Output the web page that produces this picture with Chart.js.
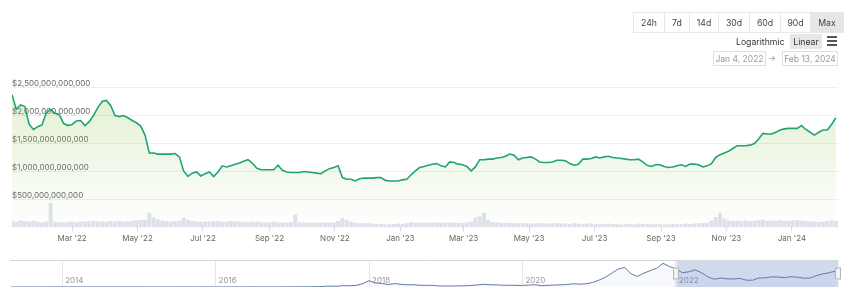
<!DOCTYPE html>
<html>
<head>
<meta charset="utf-8">
<script src="https://cdn.jsdelivr.net/npm/chart.js@4.4.1/dist/chart.umd.min.js"></script>
<style>
  body { margin: 0; background: #fff; font-family: Inter, "Liberation Sans", sans-serif; }
  #wrap { position: relative; width: 850px; height: 294px; overflow: hidden; }
  .ranges { position: absolute; left: 634px; top: 12px; height: 21px; display: flex; }
  .ranges span { box-sizing: border-box; height: 21px; border: 1px solid #e8e8e8; margin-left: -1px;
    font-size: 8.7px; color: #444; display: flex; align-items: center; justify-content: center; }
  .ranges span.on { background: #e6e6e6; border-color: #e6e6e6; }
  .scale-lbl { position: absolute; left: 736px; top: 35px; font-size: 8.7px; color: #333; line-height: 14px; }
  .scale-btn { position: absolute; left: 790px; top: 34px; width: 32px; height: 15px; background: #e6e6e6;
    font-size: 8.7px; color: #333; display: flex; align-items: center; justify-content: center; }
  .burger { position: absolute; left: 827px; width: 10px; height: 2px; background: #555; }
  .date { position: absolute; top: 51px; height: 15px; box-sizing: border-box; border: 1px solid #e0e0e0;
    font-size: 8.5px; color: #999; display: flex; align-items: center; justify-content: center; }
  .arrow { position: absolute; left: 768px; top: 52px; font-size: 8.5px; color: #999; line-height: 13px; }
  .box { position: absolute; left: 0; width: 850px; }
</style>
</head>
<body>
<div id="wrap">
  <div class="box" style="top:0;height:245px"><canvas id="main"></canvas></div>
  <div class="box" style="top:260px;height:27px"><canvas id="nav"></canvas></div>

  <div class="ranges">
    <span style="width:32px">24h</span><span style="width:26px">7d</span><span style="width:30px">14d</span>
    <span style="width:32px">30d</span><span style="width:32px">60d</span><span style="width:31px">90d</span>
    <span class="on" style="width:34px">Max</span>
  </div>
  <div class="scale-lbl">Logarithmic</div>
  <div class="scale-btn">Linear</div>
  <div class="burger" style="top:36px"></div>
  <div class="burger" style="top:40px"></div>
  <div class="burger" style="top:44px"></div>
  <div class="date" style="left:713px;width:53px">Jan 4, 2022</div>
  <div class="arrow">&rarr;</div>
  <div class="date" style="left:782px;width:56px">Feb 13, 2024</div>
</div>

<script>
// total market cap, one reading every 4 days from Jan 4, 2022 (trillion USD)
const capValues = [
  2.37, 2.11, 2.19, 2.16, 1.84, 1.75, 1.80, 1.83, 2.05, 2.11,
  2.04, 2.02, 1.86, 1.82, 1.84, 1.90, 1.91, 1.82, 1.89, 2.00,
  2.14, 2.25, 2.27, 2.18, 2.00, 1.98, 2.00, 1.96, 1.91, 1.87,
  1.81, 1.65, 1.33, 1.33, 1.31, 1.31, 1.31, 1.31, 1.32, 1.26,
  1.01, 0.91, 0.97, 0.99, 0.92, 0.96, 0.99, 0.91, 0.99, 1.10,
  1.08, 1.10, 1.13, 1.15, 1.18, 1.21, 1.15, 1.06, 1.03, 1.03,
  1.03, 1.03, 1.11, 1.02, 0.99, 0.98, 0.98, 0.98, 1.00, 0.99,
  0.98, 0.97, 0.96, 1.01, 1.05, 1.07, 1.10, 0.89, 0.86, 0.86,
  0.83, 0.87, 0.88, 0.88, 0.88, 0.89, 0.89, 0.84, 0.83, 0.83,
  0.83, 0.85, 0.86, 0.94, 1.01, 1.07, 1.09, 1.11, 1.13, 1.14,
  1.10, 1.08, 1.17, 1.16, 1.13, 1.12, 1.09, 1.01, 1.08, 1.21,
  1.21, 1.22, 1.22, 1.24, 1.25, 1.27, 1.31, 1.29, 1.21, 1.24,
  1.25, 1.26, 1.22, 1.17, 1.16, 1.16, 1.17, 1.20, 1.20, 1.19,
  1.14, 1.11, 1.13, 1.22, 1.22, 1.23, 1.26, 1.24, 1.26, 1.27,
  1.25, 1.24, 1.23, 1.22, 1.21, 1.21, 1.22, 1.17, 1.11, 1.09,
  1.12, 1.12, 1.09, 1.07, 1.08, 1.10, 1.12, 1.09, 1.13, 1.13,
  1.12, 1.08, 1.10, 1.14, 1.25, 1.30, 1.33, 1.36, 1.41, 1.46,
  1.46, 1.46, 1.47, 1.50, 1.58, 1.68, 1.67, 1.67, 1.70, 1.74,
  1.76, 1.77, 1.77, 1.77, 1.82, 1.75, 1.70, 1.65, 1.70, 1.74,
  1.74, 1.84, 1.96
];

// 24h volume on the same days (billion USD)
const volValues = [
  110, 95, 120, 105, 100, 115, 95, 90, 100, 420,
  95, 90, 85, 95, 100, 90, 95, 100, 105, 110, 100,
  105, 95, 110, 100, 115, 95, 100, 110, 120, 125, 130,
  250, 170, 140, 120,
  110, 100, 105, 115, 160, 130, 110, 100, 95, 100,
  95, 105, 110, 100, 95, 110, 105, 100, 95, 90, 100, 95, 90, 85, 90, 95, 85, 90, 85, 90,
  220,
  90, 85, 80, 85, 80, 85, 90, 85, 90,
  110, 160, 130, 100,
  80, 75, 70, 70, 65, 60, 60, 55, 55, 60, 65, 60, 70, 90, 85, 80,
  85, 80, 90, 85, 80, 80, 85, 80, 75, 80, 85, 100,
  170, 190, 250, 130,
  90, 85, 80, 75, 80, 75, 70, 75, 70, 65, 70, 75, 70, 65, 70, 75, 70, 65, 60, 70,
  65, 60, 65, 70, 60, 55, 60, 65, 60, 55, 50, 55, 60, 55, 65, 60, 55, 55, 60, 55,
  50, 55, 60, 55, 60, 65, 60, 65, 70, 75, 80,
  120, 180, 250, 150, 120,
  110, 115, 105, 120, 110, 115, 125, 130, 110, 120, 115, 125, 110, 115, 120, 125,
  115, 110, 105, 100, 95, 100, 110, 120, 115
];

const startDay = Date.UTC(2022, 0, 4);
const stepDays = 4;
const lastDay = 770; // Feb 13, 2024

const monthTicks = [[2022, 2], [2022, 4], [2022, 6], [2022, 8], [2022, 10], [2023, 0],
  [2023, 2], [2023, 4], [2023, 6], [2023, 8], [2023, 10], [2024, 0]];
const monthLabels = ["Mar '22", "May '22", "Jul '22", "Sep '22", "Nov '22", "Jan '23",
  "Mar '23", "May '23", "Jul '23", "Sep '23", "Nov '23", "Jan '24"];
const yTicks = [0.5, 1, 1.5, 2, 2.5];

// navigator: monthly market cap from May 2013 (trillion USD)
const navValues = [
  0.0013, 0.0011, 0.001, 0.0012, 0.0014, 0.0018, 0.006, 0.013,
  0.011, 0.01, 0.008, 0.006, 0.006, 0.008, 0.008, 0.007, 0.006, 0.005, 0.005, 0.005,
  0.0045, 0.0034, 0.0035, 0.0036, 0.0033, 0.0034, 0.0039, 0.0042, 0.0035, 0.0036, 0.0047, 0.0066,
  0.007, 0.0065, 0.0075, 0.0085, 0.0087, 0.0096, 0.0125, 0.011, 0.0116, 0.0122, 0.0126, 0.0135,
  0.018, 0.019, 0.024, 0.027, 0.036, 0.09, 0.1, 0.095, 0.17, 0.15, 0.2, 0.4,
  0.78, 0.48, 0.43, 0.3, 0.42, 0.33, 0.27, 0.28, 0.21, 0.21, 0.2, 0.12,
  0.13, 0.12, 0.14, 0.15, 0.19, 0.26, 0.33, 0.28, 0.26, 0.21, 0.22, 0.2,
  0.19, 0.24, 0.27, 0.16, 0.2, 0.25, 0.26, 0.31, 0.39, 0.35, 0.4, 0.55,
  0.85, 1.2, 1.7, 2.2, 2.4, 1.6, 1.3, 1.7, 2.0, 2.3, 2.9, 2.5,
  2.25, 1.75, 1.85, 2.1, 1.75, 1.25, 0.95, 1.1, 1.0, 0.98, 1.05, 0.84,
  0.83, 1.1, 1.12, 1.25, 1.22, 1.15, 1.25, 1.2, 1.08, 1.1, 1.4, 1.6,
  1.75, 1.95
];
const navYears = [2014, 2016, 2018, 2020, 2022];
const navMin = 2013.32;
const navMax = 2024.12;
const rangeFrom = 2022 + 3 / 365;
const rangeTo = 2024 + 43 / 366;

Chart.defaults.font.family = 'Inter';
const axisFont = { family: 'Inter', size: 8 };

const dayOf = (y, m) => (Date.UTC(y, m, 1) - startDay) / 86400000;
const tickDays = monthTicks.map(t => dayOf(t[0], t[1]));
const capPoints = capValues.map((v, i) => ({ x: i * stepDays, y: v }));
const volPoints = volValues.map((v, i) => ({ x: i * stepDays, y: v }));
const fmtUsd = v => '$' + String(Math.round(v * 1000)).replace(/\B(?=(\d{3})+(?!\d))/g, ',') + ',000,000,000';

function greenFill(context) {
    const chart = context.chart;
    const area = chart.chartArea;
    if (!area) return null;
    const g = chart.ctx.createLinearGradient(0, area.top, 0, area.bottom);
    g.addColorStop(0, 'rgba(139,195,74,0.26)');
    g.addColorStop(1, 'rgba(139,195,74,0)');
    return g;
}

new Chart(document.getElementById('main'), {
    type: 'line',
    data: {
        datasets: [{
            type: 'line',
            data: capPoints,
            borderColor: '#22a373',
            borderWidth: 1.6,
            pointRadius: 0,
            tension: 0,
            fill: 'start',
            backgroundColor: greenFill,
            order: 0
        }, {
            type: 'bar',
            data: volPoints,
            yAxisID: 'yv',
            backgroundColor: 'rgba(180,190,208,0.45)',
            barPercentage: 0.9,
            categoryPercentage: 1,
            order: 1
        }]
    },
    options: {
        animation: false,
        responsive: true,
        maintainAspectRatio: false,
        layout: { padding: { left: 12, right: 12, top: 87.5, bottom: 0 } },
        plugins: { legend: { display: false }, tooltip: { enabled: false } },
        scales: {
            x: {
                type: 'linear', min: 0, max: lastDay, offset: false,
                afterBuildTicks: ax => { ax.ticks = tickDays.map(v => ({ value: v })); },
                ticks: { callback: (v, i) => monthLabels[i], autoSkip: false, maxRotation: 0,
                    font: axisFont, color: '#666', padding: 2 },
                grid: { offset: false, drawOnChartArea: false, tickLength: 4, color: '#d5dbe5' },
                border: { display: false }
            },
            y: {
                min: 0, max: 2.5,
                afterBuildTicks: ax => { ax.ticks = yTicks.map(v => ({ value: v })); },
                ticks: { mirror: true, padding: 0, labelOffset: -4, font: axisFont, color: '#666', callback: fmtUsd },
                grid: { color: '#eeeeee', drawTicks: false },
                border: { display: false }
            },
            yv: { display: false, min: 0, max: 2400 }
        }
    }
});

// year labels, selected range mask, handles and outline on the navigator
const rangeMask = {
    id: 'rangeMask',
    beforeDatasetsDraw(chart) {
        const { ctx, chartArea, scales } = chart;
        ctx.save();
        ctx.font = '8px Inter';
        ctx.fillStyle = '#999';
        ctx.textBaseline = 'middle';
        navYears.forEach(y => {
            ctx.fillText(String(y), scales.x.getPixelForValue(y) + 3, chartArea.bottom - 6);
        });
        const x0 = scales.x.getPixelForValue(rangeFrom);
        const x1 = scales.x.getPixelForValue(rangeTo);
        ctx.fillStyle = 'rgba(102,133,194,0.3)';
        ctx.fillRect(x0, chartArea.top, x1 - x0, chartArea.bottom - chartArea.top);
        ctx.restore();
    },
    afterDraw(chart) {
        const { ctx, chartArea, scales } = chart;
        ctx.save();
        ctx.strokeStyle = '#d6d6d6';
        ctx.lineWidth = 1;
        ctx.beginPath();
        ctx.moveTo(chartArea.left, chartArea.top + 0.5);
        ctx.lineTo(chartArea.right, chartArea.top + 0.5);
        ctx.stroke();
        const mid = (chartArea.top + chartArea.bottom) / 2;
        [rangeFrom, rangeTo].forEach(v => {
            const px = Math.round(scales.x.getPixelForValue(v));
            ctx.fillStyle = '#f2f2f2';
            ctx.strokeStyle = '#b5b5b5';
            ctx.fillRect(px - 3, mid - 6, 6, 12);
            ctx.strokeRect(px - 2.5, mid - 5.5, 5, 11);
        });
        ctx.restore();
    }
};

const navPoints = navValues.map((v, i) => ({ x: 2013 + (4 + i) / 12, y: v }));

new Chart(document.getElementById('nav'), {
    type: 'line',
    data: {
        datasets: [{
            data: navPoints,
            borderColor: '#6578a8',
            borderWidth: 1,
            pointRadius: 0,
            tension: 0,
            fill: 'start',
            backgroundColor: 'rgba(102,133,194,0.05)'
        }]
    },
    options: {
        animation: false,
        responsive: true,
        maintainAspectRatio: false,
        layout: { padding: { left: 10, right: 11.5, top: 0, bottom: 0 } },
        plugins: { legend: { display: false }, tooltip: { enabled: false } },
        scales: {
            x: {
                type: 'linear', min: navMin, max: navMax,
                afterBuildTicks: ax => { ax.ticks = navYears.map(v => ({ value: v })); },
                ticks: { display: false },
                grid: { color: '#e6e6e6', drawTicks: false },
                border: { display: false }
            },
            y: { display: false, min: 0, max: 3.3 }
        }
    },
    plugins: [rangeMask]
});
</script>
</body>
</html>
